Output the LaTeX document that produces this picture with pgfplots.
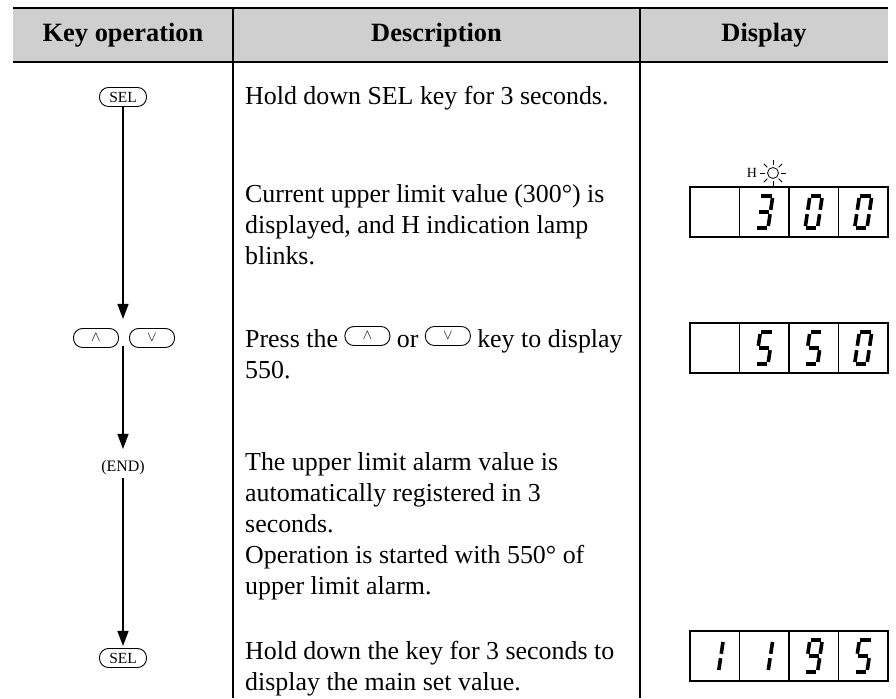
\documentclass[border=0pt]{standalone}
\usepackage{fontspec}
\setmainfont{Liberation Serif}
\usepackage{pgfplots}
\pgfplotsset{compat=1.18}
\usetikzlibrary{arrows.meta}

\tikzset{keycap/.style={draw, line width=0.9bp, rounded corners=9bp, minimum width=45bp, minimum height=19bp, inner sep=0pt, font=\fontsize{15.5}{15.5}\selectfont}}
\newcommand{\ikey}[1]{\tikz[baseline={(0,-8bp)}]\node[keycap]{#1};}
\newcommand{\txt}[3]{\node[anchor=base west, inner sep=0pt, font=\fontsize{26}{31}\selectfont] at (axis cs:#1,#2) {#3};}

% seven-segment helpers: origin x,y ; segment start (u,v) ; end (u,v)
\newcommand{\sseg}[6]{%
 \pgfmathsetmacro\sxa{#1+#3+0.15*#4}\pgfmathsetmacro\sya{#2+#4}%
 \pgfmathsetmacro\sxb{#1+#5+0.15*#6}\pgfmathsetmacro\syb{#2+#6}%
 \edef\sstmp{\noexpand\addplot[black,line width=3.6bp,line cap=butt] coordinates {(\sxa,\sya)(\sxb,\syb)};}\sstmp}
\newcommand{\sA}[2]{\sseg{#1}{#2}{2.8}{34.2}{13.2}{34.2}}
\newcommand{\sB}[2]{\sseg{#1}{#2}{14.2}{20.2}{14.2}{32.0}}
\newcommand{\sC}[2]{\sseg{#1}{#2}{14.2}{4.0}{14.2}{15.8}}
\newcommand{\sD}[2]{\sseg{#1}{#2}{2.8}{1.8}{13.2}{1.8}}
\newcommand{\sE}[2]{\sseg{#1}{#2}{1.8}{4.0}{1.8}{15.8}}
\newcommand{\sF}[2]{\sseg{#1}{#2}{1.8}{20.2}{1.8}{32.0}}
\newcommand{\sG}[2]{\sseg{#1}{#2}{2.8}{18}{13.2}{18}}
\newcommand{\dzero}[2]{\sA{#1}{#2}\sB{#1}{#2}\sC{#1}{#2}\sD{#1}{#2}\sE{#1}{#2}\sF{#1}{#2}}
\newcommand{\done}[2]{\sB{#1}{#2}\sC{#1}{#2}}
\newcommand{\dthree}[2]{\sA{#1}{#2}\sB{#1}{#2}\sC{#1}{#2}\sD{#1}{#2}\sG{#1}{#2}}
\newcommand{\dfive}[2]{\sA{#1}{#2}\sF{#1}{#2}\sG{#1}{#2}\sC{#1}{#2}\sD{#1}{#2}}
\newcommand{\dnine}[2]{\sA{#1}{#2}\sB{#1}{#2}\sC{#1}{#2}\sD{#1}{#2}\sF{#1}{#2}\sG{#1}{#2}}
% display box: bottom y
\newcommand{\dbox}[1]{%
 \pgfmathsetmacro\bt{#1+50}%
 \edef\sstmp{\noexpand\addplot[black,line width=1.5bp] coordinates {(690,#1)(888,#1)(888,\bt)(690,\bt)} -- cycle;
 \noexpand\addplot[black,line width=1.5bp] coordinates {(739.5,#1)(739.5,\bt)};
 \noexpand\addplot[black,line width=1.5bp] coordinates {(789,#1)(789,\bt)};
 \noexpand\addplot[black,line width=1.5bp] coordinates {(838.5,#1)(838.5,\bt)};}\sstmp}

\begin{document}
\begin{tikzpicture}
\begin{axis}[width=896bp,height=698bp,scale only axis,xmin=0,xmax=896,ymin=0,ymax=698,hide axis,clip=false]
\addplot[draw=none] coordinates {(0,0)(896,698)};
% header
\addplot[fill=black!19,draw=none] coordinates {(13,636)(888,636)(888,690)(13,690)} -- cycle;
\addplot[black,line width=1.8bp] coordinates {(13,690)(888,690)};
\addplot[black,line width=1.8bp] coordinates {(13,636)(888,636)};
\addplot[black,line width=1.5bp] coordinates {(233,690)(233,0)};
\addplot[black,line width=1.5bp] coordinates {(640,690)(640,0)};
\node[font=\fontsize{26.5}{30}\selectfont\bfseries] at (axis cs:123,663) {Key operation};
\node[font=\fontsize{26.5}{30}\selectfont\bfseries] at (axis cs:436.5,663) {Description};
\node[font=\fontsize{26.5}{30}\selectfont\bfseries] at (axis cs:764,663) {Display};

% key column
\node[keycap, minimum width=47bp] at (axis cs:123,601) {SEL};
\addplot[black,line width=1.3bp,-{Triangle[length=15bp,width=11bp]}] coordinates {(123,591)(123,379)};
\node[keycap] at (axis cs:96,360) {$\wedge$};
\node[keycap] at (axis cs:152,360) {$\vee$};
\addplot[black,line width=1.3bp,-{Triangle[length=15bp,width=11bp]}] coordinates {(123,352)(123,249)};
\node[font=\fontsize{16}{16}\selectfont] at (axis cs:123,230) {(END)};
\addplot[black,line width=1.3bp,-{Triangle[length=15bp,width=11bp]}] coordinates {(123,220)(123,52)};
\node[keycap, minimum width=47bp] at (axis cs:123,40) {SEL};

% description
\txt{245}{593}{Hold down SEL key for 3 seconds.}
\txt{245}{495}{Current upper limit value (300°) is}
\txt{245}{464}{displayed, and H indication lamp}
\txt{245}{433}{blinks.}
\txt{245}{350}{Press the \ikey{$\wedge$} or \ikey{$\vee$} key to display}
\txt{245}{319}{550.}
\txt{245}{227}{The upper limit alarm value is}
\txt{245}{196}{automatically registered in 3}
\txt{245}{165}{seconds.}
\txt{245}{134}{Operation is started with 550° of}
\txt{245}{103}{upper limit alarm.}
\txt{245}{38}{Hold down the key for 3 seconds to}
\txt{245}{8}{display the main set value.}

% lamp
\node[font=\fontsize{14}{14}\selectfont] at (axis cs:752,525) {H};
\node[circle, draw, line width=0.8bp, minimum size=11bp, inner sep=0pt] at (axis cs:773,525) {};
\addplot[black,line width=0.8bp] coordinates {(781,525)(786,525)};
\addplot[black,line width=0.8bp] coordinates {(765,525)(760,525)};
\addplot[black,line width=0.8bp] coordinates {(773,533)(773,538)};
\addplot[black,line width=0.8bp] coordinates {(773,517)(773,512)};
\addplot[black,line width=0.8bp] coordinates {(778.66,530.66)(782.19,534.19)};
\addplot[black,line width=0.8bp] coordinates {(767.34,530.66)(763.81,534.19)};
\addplot[black,line width=0.8bp] coordinates {(767.34,519.34)(763.81,515.81)};
\addplot[black,line width=0.8bp] coordinates {(778.66,519.34)(782.19,515.81)};

% displays
\dbox{461}
\dthree{753.5}{468}\dzero{803}{468}\dzero{852.5}{468}
\dbox{325}
\dfive{753.5}{332}\dfive{803}{332}\dzero{852.5}{332}
\dbox{17}
\done{704}{24}\done{753.5}{24}\dnine{803}{24}\dfive{852.5}{24}
\end{axis}
\end{tikzpicture}
\end{document}
